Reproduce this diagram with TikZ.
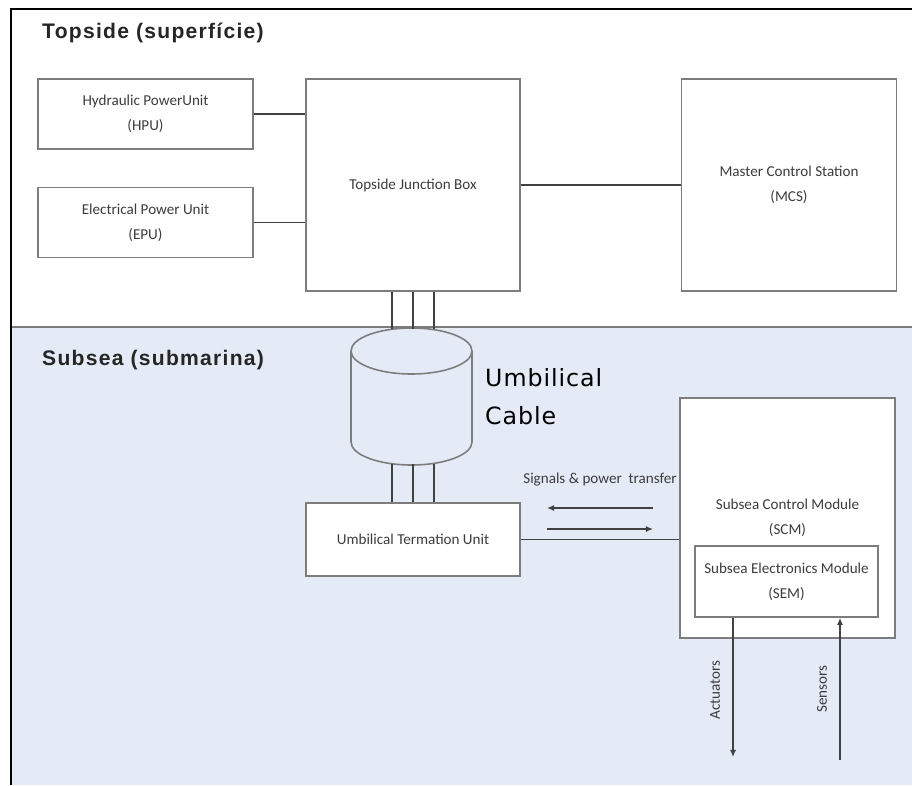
\documentclass[tikz,border=0pt]{standalone}
\usepackage{fontspec}
\setmainfont{Carlito}
\newfontfamily\zonefont{Liberation Sans}[LetterSpace=6]
\newfontfamily\cablefont{DejaVu Sans}[LetterSpace=4]
\usetikzlibrary{arrows.meta,positioning}
\definecolor{seaBlue}{RGB}{228,235,246}
\definecolor{lineGray}{RGB}{125,125,125}
\definecolor{wireGray}{RGB}{65,65,65}
\definecolor{textGray}{RGB}{60,60,60}
\tikzset{
  box/.style={draw=lineGray,line width=0.9pt,fill=white,align=center,
              font=\fontsize{8.6}{14}\selectfont,text=textGray,inner sep=0pt},
  wire/.style={draw=wireGray,line width=0.8pt},
  arr/.style={-{Latex[length=4pt,width=3.5pt]},wire},
  zone/.style={font=\zonefont\bfseries\fontsize{12}{14}\selectfont,text=black!85,anchor=west},
  lbl/.style={font=\fontsize{8.6}{10}\selectfont,text=textGray},
}

\begin{document}
\begin{tikzpicture}[x=0.02cm,y=-0.02cm,node distance=0.74cm]
  \useasboundingbox (0,0) rectangle (912,785);
  % zones
  \fill[white] (0,0) rectangle (912,785);
  \fill[seaBlue] (11,327) rectangle (912,785);
  \draw[lineGray,line width=1pt] (11,327) -- (912,327);
  \draw[black,line width=1.4pt] (912,9) -- (11,9) -- (11,785);
  \node[zone] (top) at (36,33) {Topside (superfície)};
  \node[zone] (sub) at (36,360) {Subsea (submarina)};

  % topside units
  \node[box,minimum width=4.3cm,minimum height=1.4cm]  (hpu) at (145.5,114) {Hydraulic PowerUnit\\(HPU)};
  \node[box,minimum width=4.3cm,minimum height=1.4cm,below=of hpu] (epu) {Electrical Power Unit\\(EPU)};
  \node[box,minimum width=4.28cm,minimum height=4.24cm] (jb) at (413,185) {Topside Junction Box};
  \node[box,minimum width=4.3cm,minimum height=4.24cm,right=3.2cm of jb] (mcs) {Master Control Station\\(MCS)};
  \draw[wire] (hpu.east) -- (hpu.east -| jb.west);
  \draw[wire] (epu.east) -- (epu.east -| jb.west);
  \draw[wire] (jb.east) -- (mcs.west);

  % umbilical
  \coordinate (cabtop) at (411.5,351);
  \coordinate (cabbot) at (411.5,442);
  \coordinate (cabin)  at (411.5,329);
  \coordinate (cabout) at (411.5,464);
  \draw[lineGray,line width=0.9pt] (cabtop) ellipse[x radius=1.21cm,y radius=0.46cm];
  \draw[lineGray,line width=0.9pt] ([xshift=-1.21cm]cabtop) -- ([xshift=-1.21cm]cabbot)
    arc[start angle=180,end angle=360,x radius=1.21cm,y radius=0.46cm] -- ([xshift=1.21cm]cabtop);
  \node[font=\cablefont\fontsize{13.5}{21.5}\selectfont,align=left,anchor=west] (cabl) at (479,397) {Umbilical\\Cable};

  % subsea units
  \node[box,minimum width=4.28cm,minimum height=1.46cm] (utu) at (413,539.5) {Umbilical Termation Unit};
  \node[box,minimum width=4.3cm,minimum height=4.8cm] (scm) at (787.5,518) {Subsea Control Module\\(SCM)};
  \node[box,minimum width=3.66cm,minimum height=1.42cm] (sem) at (786.5,581.5) {Subsea Electronics Module\\(SEM)};
  \foreach \dx in {-0.42,0,0.42} {
    \draw[wire] ([xshift=\dx cm]jb.south) -- ([xshift=\dx cm]jb.south |- cabin);
    \draw[wire] ([xshift=\dx cm]utu.north) -- ([xshift=\dx cm]utu.north |- cabout);
  }
  \draw[wire] (utu.east) -- (utu.east -| scm.west);

  % signals
  \coordinate (sigA) at (653,508);
  \coordinate (sigB) at (547,529);
  \draw[arr] (sigA) -- (sigA -| sigB);
  \draw[arr] (sigB) -- (sigB -| sigA);
  \node[lbl] (sig) at (600,480) {Signals \& power\ \ transfer};

  % actuators / sensors
  \coordinate (act) at (733,757);
  \coordinate (sen) at (840,760);
  \draw[arr] (sem.south -| act) -- (act);
  \draw[arr] (sen) -- (sen |- sem.south);
  \node[lbl,rotate=90] (actl) at (715,690) {Actuators};
  \node[lbl,rotate=90] (senl) at (822,689) {Sensors};
\end{tikzpicture}
\end{document}
